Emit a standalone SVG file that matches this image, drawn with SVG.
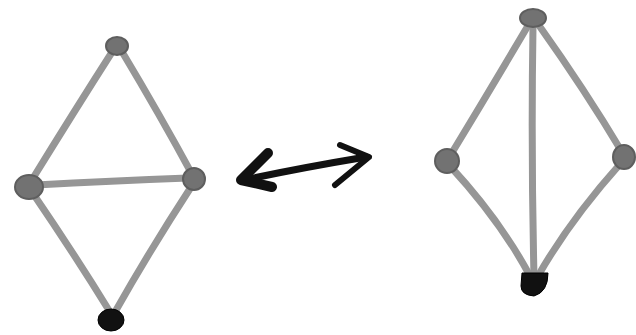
<svg xmlns="http://www.w3.org/2000/svg" width="636" height="335" viewBox="0 0 636 335">
<style>
.e{fill:none;stroke:#969696;stroke-width:7;stroke-linecap:round;stroke-linejoin:round}
.n{fill:#727272;stroke:#5e5e5e;stroke-width:2}
.b{fill:#111;stroke:#000;stroke-width:1}
.a{fill:none;stroke:#111;stroke-linecap:round;stroke-linejoin:round}
</style>
<rect width="636" height="335" fill="#fff"/>
<g id="connectors">
<path class="e" d="M114,49 Q75,110 30,183"/>
<path class="e" d="M121,50 Q160,115 193,176"/>
<path class="e" d="M36,185 Q110,181 188,178"/>
<path class="e" d="M32,192 Q75,255 110,312"/>
<path class="e" d="M193,184 Q150,250 115,312"/>
<path class="e" d="M529,24 Q490,90 450,156"/>
<path class="e" d="M533,26 Q531,150 534,276"/>
<path class="e" d="M538,24 Q585,90 622,152"/>
<path class="e" d="M450,166 Q500,220 530,276"/>
<path class="e" d="M621,163 Q570,220 538,276"/>
<path class="a" stroke-width="7" d="M244,180 Q300,168 366,157"/>
<path class="a" stroke-width="10" d="M268,153 L241,180 L272,187"/>
<path class="a" stroke-width="6" d="M340,145 L369,157 L335,185"/>
</g>
<g id="n1"><ellipse class="n" cx="117" cy="46" rx="11" ry="9"/></g>
<g id="n2"><ellipse class="n" cx="29" cy="187" rx="14" ry="12"/></g>
<g id="n3"><ellipse class="n" cx="194" cy="179" rx="11" ry="11"/></g>
<g id="n4"><ellipse class="b" cx="111" cy="320" rx="13" ry="11"/></g>
<g id="n5"><ellipse class="n" cx="533" cy="18" rx="13" ry="9"/></g>
<g id="n6"><ellipse class="n" cx="447" cy="161" rx="12" ry="12"/></g>
<g id="n7"><ellipse class="n" cx="624" cy="157" rx="11" ry="12"/></g>
<g id="n8"><path class="b" d="M522,273 L548,273 Q548,292 534,296 Q521,295 521,286 Z"/></g>
</svg>
